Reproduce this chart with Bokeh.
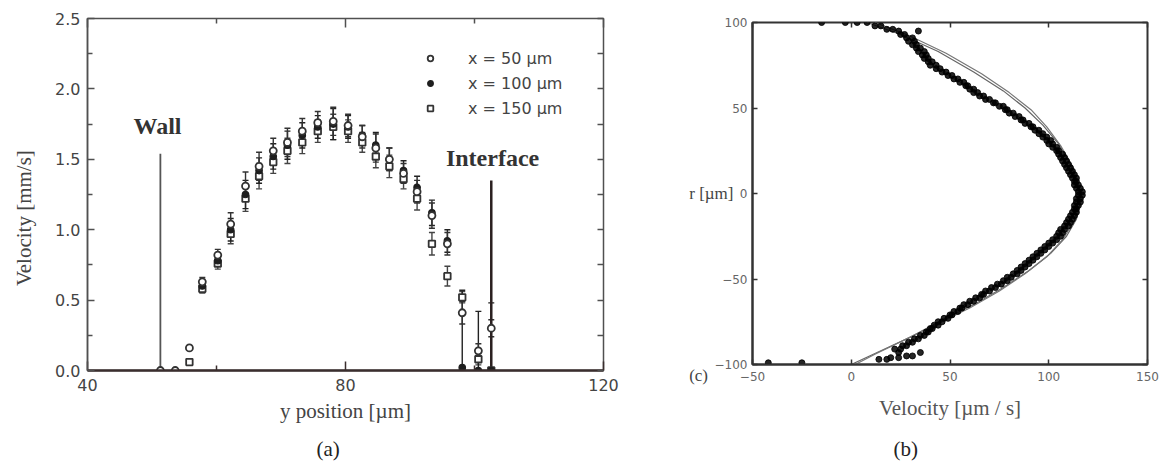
import numpy as np
from bokeh.plotting import figure
from bokeh.models import (ColumnDataSource, Whisker, TeeHead, LinearAxis, FixedTicker,
                          Range1d, Label, Legend, LegendItem, Title, NumeralTickFormatter)
from bokeh.layouts import row, column
from bokeh.embed import file_html
from bokeh.resources import INLINE

# ---------------- panel (a) data ----------------
y_pos = [51.3, 53.6, 55.8, 57.8, 60.2, 62.2, 64.5, 66.6, 68.8, 71.0, 73.3, 75.7,
         78.1, 80.4, 82.6, 84.7, 86.8, 89.0, 91.1, 93.4, 95.8, 98.1, 100.6, 102.6]
v_x50 = [0.0, 0.0, 0.16, 0.63, 0.82, 1.04, 1.31, 1.45, 1.56, 1.62, 1.70, 1.76,
         1.77, 1.74, 1.66, 1.58, 1.50, 1.40, 1.27, 1.10, 0.90, 0.41, 0.14, 0.30]
e_x50 = [0.0, 0.0, 0.0, 0.03, 0.04, 0.08, 0.10, 0.10, 0.09, 0.10, 0.09, 0.08,
         0.10, 0.08, 0.08, 0.10, 0.08, 0.07, 0.08, 0.09, 0.08, 0.08, 0.05, 0.06]
v_x100 = [None, None, None, 0.60, 0.78, 1.00, 1.25, 1.42, 1.52, 1.60, 1.67, 1.73,
          1.75, 1.73, 1.67, 1.60, 1.50, 1.42, 1.30, 1.12, 0.92, 0.02, 0.0, 0.0]
e_x100 = [None, None, None, 0.03, 0.04, 0.08, 0.10, 0.09, 0.09, 0.10, 0.09, 0.08,
          0.11, 0.08, 0.07, 0.09, 0.08, 0.07, 0.08, 0.09, 0.08, 0.55, 0.42, 0.48]
v_x150 = [None, None, 0.06, 0.58, 0.76, 0.97, 1.22, 1.38, 1.48, 1.56, 1.62, 1.70,
          1.73, 1.70, 1.62, 1.52, 1.45, 1.36, 1.22, 0.90, 0.67, 0.52, 0.08, 0.0]
e_x150 = [None, None, 0.0, 0.03, 0.04, 0.07, 0.09, 0.09, 0.08, 0.09, 0.08, 0.08,
          0.09, 0.08, 0.07, 0.08, 0.08, 0.07, 0.08, 0.08, 0.07, 0.04, 0.04, 0.0]
wall_pos = [51.3]
wall_top = [1.54]
interface_pos = [102.6]
interface_top = [1.35]

# ---------------- panel (b) data ----------------
r_pts = [100, 100, 100, 100, 98, 98, 96, 96, 95, 95, 93, 93, 91, 91, 89, 89, 87, 87,
         85, 85, 83, 83, 81, 81, 79, 79, 77, 77, 75, 75, 73, 73, 71, 71, 69, 69, 67, 67,
         65, 65, 63, 63, 61, 61, 59, 59, 57, 57, 55, 55, 53, 53, 51, 51, 49, 49, 47, 47,
         45, 45, 43, 43, 41, 41, 39, 39, 37, 37, 35, 35, 33, 33, 31, 31, 29, 29, 27, 27,
         25, 25, 23, 23, 21, 21, 19, 19, 17, 17, 15, 15, 13, 13, 11, 11, 9, 9, 7, 7,
         5, 5, 3, 3, 1, 1, -1, -1, -3, -3, -5, -5, -7, -7, -9, -9, -11, -11, -13, -13,
         -15, -15, -17, -17, -19, -19, -21, -21, -23, -23, -25, -25, -27, -27, -29, -29,
         -31, -31, -33, -33, -35, -35, -37, -37, -39, -39, -41, -41, -43, -43, -45, -45,
         -47, -47, -49, -49, -51, -51, -53, -53, -55, -55, -57, -57, -59, -59, -61, -61,
         -63, -63, -65, -65, -67, -67, -69, -69, -71, -71, -73, -73, -75, -75, -77, -77,
         -79, -79, -81, -81, -83, -83, -85, -85, -87, -87, -89, -89, -91, -91, -93, -93,
         -95, -95, -96, -96, -97, -97, -99, -99]
v_pts = [-15, -3, 3, 8, 12, 15, 21, 18, 24, 34, 25, 27, 28, 31, 29, 32, 31, 33,
         33, 35, 34, 37, 36, 38, 37, 39, 39, 41, 40, 43, 43, 45, 46, 48, 49, 51, 52, 54,
         55, 57, 58, 59, 60, 62, 62, 64, 65, 67, 68, 70, 72, 73, 75, 77, 78, 79, 80, 82,
         83, 85, 86, 87, 88, 90, 91, 92, 93, 95, 95, 97, 97, 99, 99, 101, 100, 102, 102, 104,
         104, 105, 105, 107, 106, 108, 107, 109, 108, 110, 109, 111, 110, 112, 111, 113, 112, 114, 113, 114,
         113, 115, 114, 116, 115, 117, 115, 117, 114, 116, 114, 116, 113, 115, 113, 114, 112, 114, 111, 113,
         110, 112, 109, 111, 108, 110, 106, 108, 105, 107, 104, 106, 102, 104, 100, 102,
         98, 100, 96, 98, 94, 96, 92, 94, 90, 92, 88, 90, 86, 88, 84, 86,
         82, 84, 79, 81, 77, 79, 74, 76, 71, 73, 68, 70, 66, 67, 63, 65,
         60, 62, 57, 59, 55, 56, 52, 54, 50, 51, 47, 49, 44, 46, 42, 44,
         40, 41, 38, 39, 35, 37, 32, 34, 29, 31, 26, 28, 22, 25, 24, 35,
         28, 31, 20, 24, 14, 18, -42, -25]
fit1_v = [8, 25, 44, 62, 77, 88, 97, 105, 111, 115, 116, 114, 109, 101, 90, 77, 62, 46, 30, 15, 0]
fit1_r = [100, 93, 83, 71, 60, 50, 40, 29, 17, 5, -5, -15, -25, -35, -45, -55, -65, -74, -84, -92, -100]
fit2_v = [12, 30, 48, 66, 80, 91, 99, 106, 112, 115, 115, 113, 107, 99, 88, 75, 60, 44, 28, 12, 2]
fit2_r = [100, 92, 82, 70, 59, 49, 39, 28, 16, 5, -5, -16, -27, -37, -47, -57, -67, -76, -85, -94, -100]

SERIF = "Liberation Serif"
SANS = "DejaVu Sans"
FRAME = "#505050"
TXT = "#444444"
NB = "\u00a0"


def tick_only_axis(ticks, minor, tin, min_in, color):
    """An axis that draws only inward ticks (no line, no labels)."""
    return LinearAxis(ticker=FixedTicker(ticks=ticks, minor_ticks=minor),
                      major_label_overrides={t: "" for t in ticks},
                      major_label_text_font_size="1px", major_label_standoff=0,
                      axis_label_standoff=0, axis_line_color=None,
                      major_tick_in=tin, major_tick_out=0, minor_tick_in=min_in, minor_tick_out=0,
                      major_tick_line_color=color, minor_tick_line_color=color,
                      major_tick_line_width=1.5, minor_tick_line_width=1.5)


# ================= panel (a) =================
p1 = figure(width=640, height=473, x_range=Range1d(40, 120), y_range=Range1d(0, 2.5),
            output_backend="svg", toolbar_location=None,
            min_border_left=87, min_border_right=37, min_border_top=18, min_border_bottom=103)
p1.xgrid.visible = False
p1.ygrid.visible = False
p1.outline_line_color = FRAME
p1.outline_line_width = 1.5
p1.background_fill_color = "white"
p1.border_fill_color = "white"

xt = FixedTicker(ticks=[40, 80, 120], minor_ticks=[60, 100])
yt = FixedTicker(ticks=[0, 0.5, 1.0, 1.5, 2.0, 2.5], minor_ticks=[0.25, 0.75, 1.25, 1.75, 2.25])

for ax in p1.xaxis:
    ax.ticker = xt
    ax.axis_label = "y position [µm]"
    ax.axis_line_color = "#3a2e2e"
    ax.axis_line_width = 2.5
    ax.major_tick_in = 9; ax.major_tick_out = 0
    ax.minor_tick_in = 5; ax.minor_tick_out = 0
    ax.major_tick_line_color = "#3a2e2e"; ax.major_tick_line_width = 1.5
    ax.minor_tick_line_color = "#3a2e2e"; ax.minor_tick_line_width = 1.5
    ax.major_label_standoff = 8
    ax.major_label_text_font = SANS
    ax.major_label_text_font_size = "16px"
    ax.major_label_text_color = TXT
    ax.axis_label_text_font = SERIF
    ax.axis_label_text_font_size = "21px"
    ax.axis_label_text_font_style = "normal"
    ax.axis_label_text_color = TXT
    ax.axis_label_standoff = 5

for ax in p1.yaxis:
    ax.ticker = yt
    ax.formatter = NumeralTickFormatter(format="0.0")
    ax.axis_label = "Velocity [mm/s]" + NB * 9
    ax.axis_line_color = FRAME
    ax.axis_line_width = 1.5
    ax.major_tick_in = 7; ax.major_tick_out = 0
    ax.minor_tick_in = 5; ax.minor_tick_out = 0
    ax.major_tick_line_color = FRAME; ax.minor_tick_line_color = FRAME
    ax.major_tick_line_width = 1.5; ax.minor_tick_line_width = 1.5
    ax.major_label_standoff = 7
    ax.major_label_text_font = SANS
    ax.major_label_text_font_size = "16px"
    ax.major_label_text_color = TXT
    ax.axis_label_text_font = SERIF
    ax.axis_label_text_font_size = "21px"
    ax.axis_label_text_font_style = "normal"
    ax.axis_label_text_color = TXT
    ax.axis_label_standoff = 16

p1.add_layout(tick_only_axis([40, 80, 120], [60, 100], 9, 5, FRAME), "above")
p1.add_layout(tick_only_axis([0, 0.25, 0.5, 0.75, 1.0, 1.25, 1.5, 1.75, 2.0, 2.25, 2.5], [], 6, 0, FRAME), "right")

# wall / interface lines
p1.segment(x0=wall_pos, y0=[0] * len(wall_pos), x1=wall_pos, y1=wall_top,
           line_color="#555555", line_width=1.8)
p1.segment(x0=interface_pos, y0=[0] * len(interface_pos), x1=interface_pos, y1=interface_top,
           line_color="#2a2020", line_width=2.5)

def series(vals, errs):
    xs, ys, lo, hi = [], [], [], []
    for x, v, e in zip(y_pos, vals, errs):
        if v is None:
            continue
        xs.append(x); ys.append(v)
        lo.append(v - (e or 0)); hi.append(v + (e or 0))
    return ColumnDataSource(dict(x=xs, y=ys, lower=lo, upper=hi))

s50 = series(v_x50, e_x50)
s100 = series(v_x100, e_x100)
s150 = series(v_x150, e_x150)

for src, col in ((s150, "#444444"), (s100, "#222222"), (s50, "#333333")):
    w = Whisker(source=src, base="x", upper="upper", lower="lower", line_color=col, line_width=1.4,
                upper_head=TeeHead(size=6, line_color=col, line_width=1.4),
                lower_head=TeeHead(size=6, line_color=col, line_width=1.4))
    p1.add_layout(w)

r150 = p1.scatter("x", "y", source=s150, marker="square", size=6.5, fill_color="white",
                  line_color="#333333", line_width=1.8)
r100 = p1.scatter("x", "y", source=s100, marker="circle", size=6.5, fill_color="#1e1e1e",
                  line_color="#1e1e1e", line_width=1.2)
r50 = p1.scatter("x", "y", source=s50, marker="circle", size=7, fill_color="white",
                 line_color="#333333", line_width=1.8)

legend = Legend(items=[LegendItem(label="x = 50 µm", renderers=[r50]),
                       LegendItem(label="x = 100 µm", renderers=[r100]),
                       LegendItem(label="x = 150 µm", renderers=[r150])],
                location=(336, 252), glyph_width=14, glyph_height=20, label_height=20,
                label_standoff=31, spacing=5, padding=0, margin=0,
                border_line_color=None, background_fill_alpha=0,
                label_text_font=SANS, label_text_font_size="16px", label_text_color=TXT)
p1.add_layout(legend)

p1.add_layout(Label(x=50.85, y=1.74, text="Wall", text_align="center", text_baseline="middle",
                    text_font=SERIF, text_font_size="24px", text_font_style="bold", text_color="#333333"))
p1.add_layout(Label(x=102.8, y=1.51, text="Interface", text_align="center", text_baseline="middle",
                    text_font=SERIF, text_font_size="24px", text_font_style="bold", text_color="#333333"))

p1.add_layout(Title(text="(a)", align="left", offset=229, text_font=SERIF, text_font_size="21px",
                    text_font_style="normal", text_color="#222222", standoff=19), "below")

# ================= panel (b) =================
p2 = figure(width=525, height=473, x_range=Range1d(-50, 150), y_range=Range1d(-100, 100),
            output_backend="svg", toolbar_location=None,
            min_border_left=112, min_border_right=18, min_border_top=22, min_border_bottom=109)
p2.xgrid.visible = False
p2.ygrid.visible = False
p2.outline_line_color = "#333333"
p2.outline_line_width = 2
p2.background_fill_color = "white"
p2.border_fill_color = "white"

xt2 = FixedTicker(ticks=[-50, 0, 50, 100, 150], minor_ticks=[])
yt2 = FixedTicker(ticks=[-100, -50, 0, 50, 100], minor_ticks=[])
for ax in p2.xaxis:
    ax.ticker = xt2
    ax.axis_label = "Velocity [µm / s]"
for ax in p2.yaxis:
    ax.ticker = yt2
for ax in list(p2.xaxis) + list(p2.yaxis):
    ax.axis_line_color = "#333333"
    ax.axis_line_width = 2
    ax.major_tick_in = 5; ax.major_tick_out = 0
    ax.minor_tick_in = 0; ax.minor_tick_out = 0
    ax.major_tick_line_color = "#333333"; ax.major_tick_line_width = 1.5
    ax.major_label_text_font = SANS
    ax.major_label_text_font_size = "12px"
    ax.major_label_text_color = "#666666"
    ax.axis_label_text_font = SERIF
    ax.axis_label_text_font_size = "21px"
    ax.axis_label_text_font_style = "normal"
    ax.axis_label_text_color = "#555555"
p2.xaxis.major_label_standoff = 7
p2.xaxis.axis_label_standoff = 12
p2.yaxis.major_label_standoff = 5

# extra left axis carrying the horizontal "r [µm]" label and the "(c)" mark
lab2 = LinearAxis(ticker=FixedTicker(ticks=[0, -100], minor_ticks=[]),
                  major_label_overrides={0: "r [µm]", -100: "\n(c)" + NB * 6},
                  axis_line_color=None, major_tick_line_color=None, minor_tick_line_color=None,
                  major_tick_in=0, major_tick_out=0, minor_tick_in=0, minor_tick_out=0,
                  major_label_standoff=-22, major_label_text_font=SERIF,
                  major_label_text_font_size="17px", major_label_text_color="#444444")
p2.add_layout(lab2, "left")

p2.add_layout(tick_only_axis([-50, 0, 50, 100, 150], [], 5, 0, "#333333"), "above")
p2.add_layout(tick_only_axis([-100, -50, 0, 50, 100], [], 5, 0, "#333333"), "right")

p2.line(fit1_v, fit1_r, line_color="#666666", line_width=1.2)
p2.line(fit2_v, fit2_r, line_color="#777777", line_width=1.2)
p2.scatter(v_pts, r_pts, marker="circle", size=6, fill_color="black", line_color="black",
           fill_alpha=0.85, line_alpha=0.85)

p2.add_layout(Title(text="(b)", align="left", offset=141, text_font=SERIF, text_font_size="21px",
                    text_font_style="normal", text_color="#222222", standoff=24), "below")

# wrap each plot in its own column so the row does not align the two frames
layout = row(column(p1), column(p2))
open("out.html", "w").write(file_html(layout, INLINE))
